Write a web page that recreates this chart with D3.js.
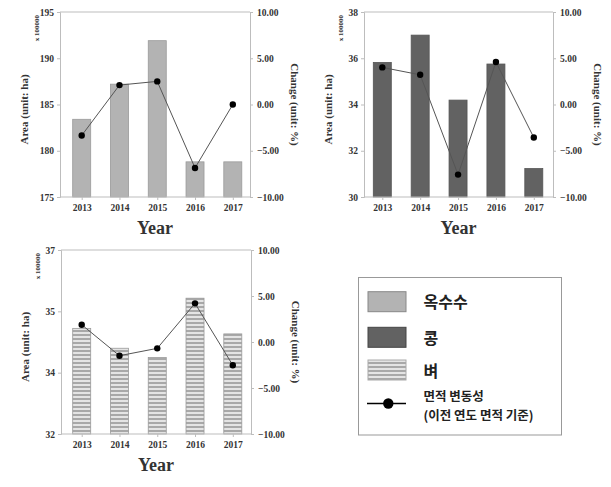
<!DOCTYPE html>
<html><head><meta charset="utf-8">
<script src="https://cdn.jsdelivr.net/npm/d3@7"></script>
<style>
body{margin:0;background:#fff;}
svg{display:block;}
.tk{font-family:"Liberation Serif","Times New Roman",serif;font-weight:bold;fill:#333;}
</style></head>
<body>
<script>
const years = ["2013","2014","2015","2016","2017"];
const cornArea = [183.4, 187.2, 191.9, 178.8, 178.8];
const cornChange = [-3.35, 2.1, 2.5, -6.86, 0.0];
const soyArea = [35.82, 37.0, 34.19, 35.75, 31.23];
const soyChange = [4.01, 3.21, -7.58, 4.59, -3.57];
const riceArea = [34.87, 34.33, 34.08, 35.69, 34.72];
const riceChange = [1.88, -1.49, -0.69, 4.2, -2.53];
const cornTicks = [175, 180, 185, 190, 195];
const soyTicks = [30, 32, 34, 36, 38];
const riceTicks = [32, 32 + 5/3, 32 + 10/3, 37];
const changeTicks = [-10, -5, 0, 5, 10];
const legendLabels = ["옥수수", "콩", "벼", "면적 변동성", "(이전 연도 면적 기준)"];

const W = 611, H = 487;
const svg = d3.select("body").append("svg").attr("width", W).attr("height", H);

const defs = svg.append("defs");
const pat = defs.append("pattern").attr("id","hatch").attr("patternUnits","userSpaceOnUse")
  .attr("width", 8).attr("height", 4);
pat.append("rect").attr("width",8).attr("height",4).attr("fill","#e4e4e4");
pat.append("rect").attr("y",2).attr("width",8).attr("height",2).attr("fill","#a8a8a8");

const panels = [
  {area: cornArea, change: cornChange, ticks: cornTicks, domain:[175,195], left:60, right:250, top:12, bottom:197,
   c0:81.7, c1:232.8, fill:"#b3b3b3", stroke:"#9a9a9a", fmt: d3.format(".0f")},
  {area: soyArea, change: soyChange, ticks: soyTicks, domain:[30,38], left:364, right:553, top:12, bottom:197,
   c0:382.3, c1:533.8, fill:"#626262", stroke:"#555", fmt: d3.format(".0f")},
  {area: riceArea, change: riceChange, ticks: riceTicks, domain:[32,37], left:61, right:251, top:250, bottom:434,
   c0:81.7, c1:232.8, fill:"url(#hatch)", stroke:"#999", fmt: d3.format(".0f")}
];

const axisColor = "#bdbdbd";

panels.forEach(p => {
  const g = svg.append("g");
  const x = d3.scalePoint().domain(years).range([p.c0, p.c1]);
  const y = d3.scaleLinear().domain(p.domain).range([p.bottom, p.top]);
  const y2 = d3.scaleLinear().domain([-10, 10]).range([p.bottom, p.top]);
  const bw = 18;

  g.selectAll("rect.bar").data(p.area).join("rect").attr("class","bar")
    .attr("x", (d,i) => x(years[i]) - bw/2).attr("width", bw)
    .attr("y", d => y(d)).attr("height", d => p.bottom - y(d))
    .attr("fill", p.fill).attr("stroke", p.stroke).attr("stroke-width", 0.8);

  g.append("line").attr("x1",p.left).attr("x2",p.right).attr("y1",p.top).attr("y2",p.top).attr("stroke",axisColor);

  const la = g.append("g").attr("transform",`translate(${p.left},0)`)
    .call(d3.axisLeft(y).tickValues(p.ticks).tickFormat(p.fmt).tickSize(3).tickPadding(3));
  const ra = g.append("g").attr("transform",`translate(${p.right},0)`)
    .call(d3.axisRight(y2).tickValues(changeTicks).tickFormat(d3.format(".2f")).tickSize(3).tickPadding(4));
  const ba = g.append("g").attr("transform",`translate(0,${p.bottom})`)
    .call(d3.axisBottom(x).tickSize(3).tickPadding(4));
  ba.select(".domain").attr("d", `M${p.left},0H${p.right}`);
  [la, ra, ba].forEach(a => {
    a.select(".domain").attr("stroke", axisColor);
    a.selectAll(".tick line").attr("stroke", axisColor);
    a.selectAll(".tick text").attr("class","tk").attr("font-size", 9.5).attr("fill","#333");
  });

  const line = d3.line().x((d,i) => x(years[i])).y(d => y2(d));
  g.append("path").datum(p.change).attr("d", line).attr("fill","none").attr("stroke","#555").attr("stroke-width",1);
  g.selectAll("circle").data(p.change).join("circle")
    .attr("cx",(d,i)=>x(years[i])).attr("cy",d=>y2(d)).attr("r",3.2).attr("fill","#000");

  const cy = (p.top + p.bottom) / 2;
  g.append("text").attr("class","tk").attr("font-size",11).attr("text-anchor","middle")
    .attr("transform",`translate(${p.left-36},${cy+5}) rotate(-90)`).attr("dy","0.35em").text("Area (unit: ha)");
  g.append("text").attr("class","tk").attr("font-size",11).attr("text-anchor","middle")
    .attr("transform",`translate(${p.right+45},${cy}) rotate(90)`).attr("dy","0.35em").text("Change (unit: %)");
  g.append("text").attr("class","tk").attr("font-size",7).attr("text-anchor","middle")
    .attr("transform",`translate(${p.left-23},${p.top+16}) rotate(-90)`).attr("dy","0.35em").text("x 100000");
  g.append("text").attr("class","tk").attr("font-size",18).attr("text-anchor","middle")
    .attr("x",(p.left+p.right)/2).attr("y",p.bottom+37).text("Year");
});

const lg = svg.append("g");
lg.append("rect").attr("x",358.5).attr("y",277.5).attr("width",203).attr("height",157.5)
  .attr("fill","#fff").attr("stroke","#999").attr("stroke-width",1);
const sw = [
  {y:291.7, fill:"#b3b3b3", stroke:"#888"},
  {y:327.3, fill:"#626262", stroke:"#444"},
  {y:360, fill:"url(#hatch)", stroke:"#aaa"}
];
lg.selectAll("rect.sw").data(sw).join("rect").attr("class","sw")
  .attr("x",368).attr("y",d=>d.y).attr("width",38).attr("height",20)
  .attr("fill",d=>d.fill).attr("stroke",d=>d.stroke);
lg.append("line").attr("x1",367).attr("x2",406).attr("y1",403.5).attr("y2",403.5).attr("stroke","#000").attr("stroke-width",1.5);
lg.append("circle").attr("cx",388.3).attr("cy",403.5).attr("r",5.2).attr("fill","#000");
const ky = [302.7, 338, 371.7, 397, 415.5];
const ks = [16, 16, 16, 12.5, 12.5];
lg.selectAll("text").data(legendLabels).join("text")
  .attr("x",423.5).attr("y",(d,i)=>ky[i]).attr("dy","0.35em")
  .attr("font-family","'Noto Sans CJK KR','Noto Sans',sans-serif").attr("font-weight","bold")
  .attr("font-size",(d,i)=>ks[i]).attr("fill","#222").text(d=>d);
</script>
</body></html>
